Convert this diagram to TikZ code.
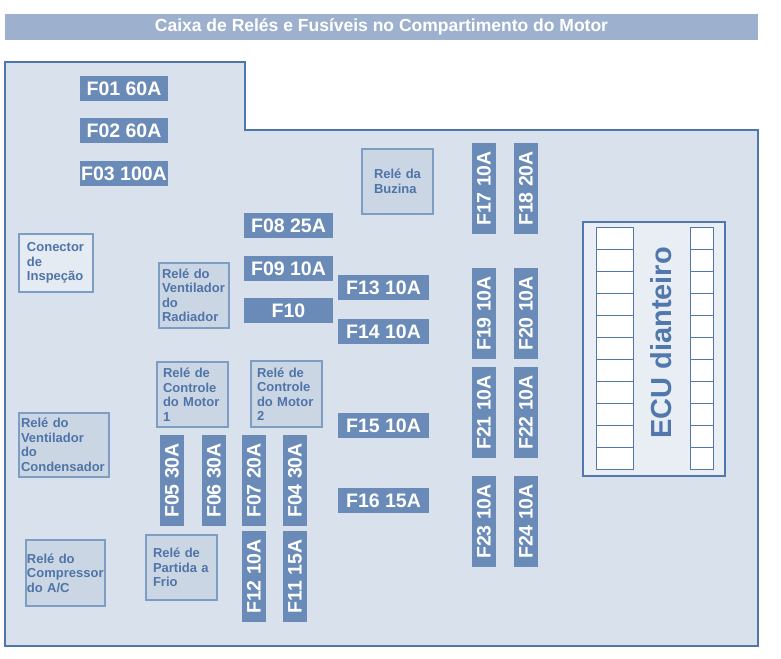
\documentclass[tikz,border=0pt]{standalone}
\usepackage{fontspec}
\setmainfont{Liberation Sans}
\usepackage{xcolor}
\hyphenpenalty=10000

\definecolor{tituloazul}{HTML}{9DB1CE}
\definecolor{caixafundo}{HTML}{D9E2EC}
\definecolor{caixaborda}{HTML}{4E76AB}
\definecolor{fusivel}{HTML}{6A8BB8}
\definecolor{relefundo}{HTML}{CBD6E4}
\definecolor{releborda}{HTML}{7E9DC3}
\definecolor{reletexto}{HTML}{4F74A8}
\definecolor{conectorfundo}{HTML}{E5EBF2}
\definecolor{ecufundo}{HTML}{E9EEF5}
\definecolor{ecuborda}{HTML}{5078AD}

\tikzset{
    fuse/.style={fill=fusivel, text=white, minimum width=88, minimum height=25, inner sep=0pt,
        font=\bfseries\fontsize{19.5}{20}\selectfont},
    vfuse/.style={fuse, rotate=90, minimum width=91, minimum height=24},
    rele/.style 2 args={draw=releborda, line width=1.3pt, fill=relefundo, text=reletexto,
        minimum width=#1, inner xsep=#2, text width=#1-2*#2, inner ysep=0pt, align=left,
        font=\bfseries\fontsize{13}{14.5}\selectfont},
    celula/.style={draw=ecuborda, line width=1pt, fill=white}
}

\begin{document}
\begin{tikzpicture}[x=1pt, y=-1pt]
            \useasboundingbox (0, 0) rectangle (781, 658);

            \node[fill=tituloazul, text=white, minimum width=753, minimum height=26, inner sep=0pt,
                font=\bfseries\fontsize{17.5}{18}\selectfont](titulo) at (381.5, 27)
                {Caixa de Relés e Fusíveis no Compartimento do Motor};

            \draw[draw=caixaborda, line width=1.6pt, fill=caixafundo](5, 62)--(245, 62)--(245, 130)
                --(758, 130)--(758, 646)--(5, 646)--cycle;

            \node[fuse](f01) at (124, 88.5){F01 60A};
            \node[fuse](f02) at (124, 130.5){F02 60A};
            \node[fuse](f03) at (124, 173.5){F03 100A};

            \node[fuse, minimum width=89](f08) at (288.5, 225.5){F08 25A};
            \node[fuse, minimum width=89](f09) at (288.5, 268.5){F09 10A};
            \node[fuse, minimum width=89](f10) at (288.5, 310.5){F10};

            \node[fuse, minimum width=91](f13) at (383.5, 287.5){F13 10A};
            \node[fuse, minimum width=91](f14) at (383.5, 331.5){F14 10A};
            \node[fuse, minimum width=91](f15) at (383.5, 425.5){F15 10A};
            \node[fuse, minimum width=91](f16) at (383.5, 500.5){F16 15A};

            \node[vfuse](f17) at (484, 188.5){F17 10A};
            \node[vfuse](f18) at (526, 188.5){F18 20A};
            \node[vfuse](f19) at (484, 313.5){F19 10A};
            \node[vfuse](f20) at (526, 313.5){F20 10A};
            \node[vfuse](f21) at (484, 412.5){F21 10A};
            \node[vfuse](f22) at (526, 412.5){F22 10A};
            \node[vfuse](f23) at (484, 521.5){F23 10A};
            \node[vfuse](f24) at (526, 521.5){F24 10A};

            \node[vfuse](f05) at (172, 480.5){F05 30A};
            \node[vfuse](f06) at (214, 480.5){F06 30A};
            \node[vfuse](f07) at (254, 480.5){F07 20A};
            \node[vfuse](f04) at (295, 480.5){F04 30A};
            \node[vfuse](f12) at (254, 576.5){F12 10A};
            \node[vfuse](f11) at (295, 576.5){F11 15A};

            \node[rele={74}{8}, fill=conectorfundo, minimum height=58](conector) at (56, 263)
                {Conector\\de\\Inspeção};
            \node[rele={70}{3}, minimum height=65](radiador) at (194, 295.5)
                {Relé do\\Ventilador\\do\\Radiador};
            \node[rele={71}{6}, minimum height=65](controle1) at (192.5, 394.5)
                {Relé de\\Controle\\do Motor\\1};
            \node[rele={71}{6}, minimum height=66](controle2) at (286.5, 394)
                {Relé de\\Controle\\do Motor\\2};
            \node[rele={90}{2}, minimum height=64](condensador) at (64, 445)
                {Relé do\\Ventilador\\do\\Condensador};
            \node[rele={79}{1}, minimum height=66](compressor) at (65.5, 573)
                {Relé do\\Compressor\\do A/C};
            \node[rele={71}{7}, minimum height=65](partida) at (181.5, 567.5)
                {Relé de\\Partida a\\Frio};
            \node[rele={71}{12}, minimum height=65](buzina) at (397.5, 181.5)
                {Relé da\\Buzina};

            \node[draw=ecuborda, line width=1.8pt, fill=ecufundo, minimum width=142, minimum height=254](ecu)
                at (654, 349){};
            \foreach \i in {0,...,10}{
                \draw[celula](596, 227+22*\i) rectangle (633, 249+22*\i);
                \draw[celula](690, 227+22*\i) rectangle (713, 249+22*\i);
            }
            \node[rotate=90, text=ecuborda, font=\bfseries\fontsize{29}{30}\selectfont](ecutexto)
                at (661.5, 343){ECU dianteiro};
        \end{tikzpicture}
\end{document}
